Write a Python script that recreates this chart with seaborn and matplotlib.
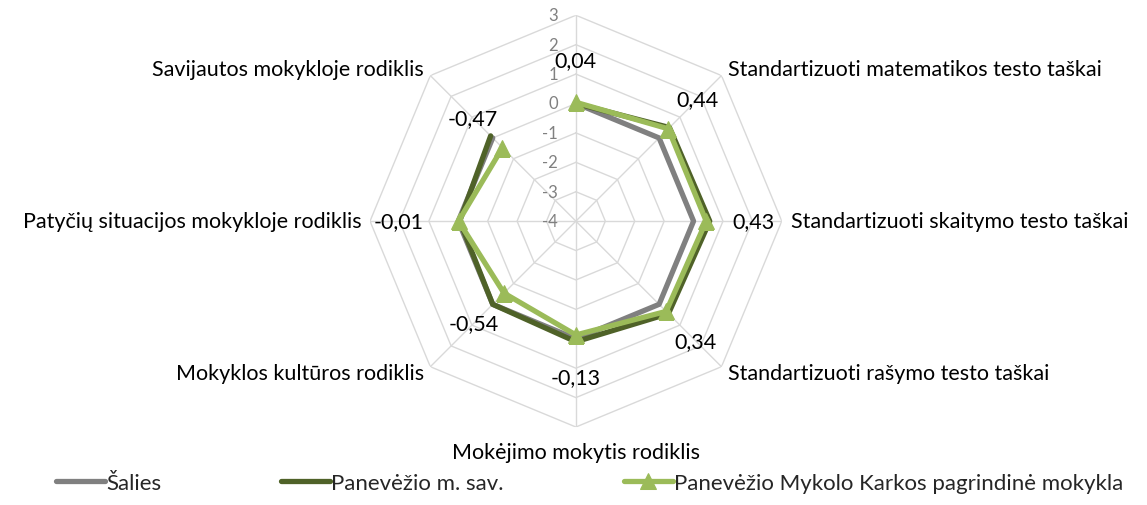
import numpy as np
import pandas as pd
import seaborn as sns
import matplotlib.pyplot as plt

sns.set_style("white")
plt.rcParams['font.family'] = ['Lato', 'DejaVu Sans']

categories = ["", "Standartizuoti matematikos testo taškai", "Standartizuoti skaitymo testo taškai",
              "Standartizuoti rašymo testo taškai", "Mokėjimo mokytis rodiklis",
              "Mokyklos kultūros rodiklis", "Patyčių situacijos mokykloje rodiklis",
              "Savijautos mokykloje rodiklis"]
salies = [0, 0, 0, 0, 0, 0, 0, 0]
savivaldybe = [0.0, 0.5, 0.55, 0.45, 0.1, 0.0, -0.05, 0.1]
mokykla = [0.04, 0.44, 0.43, 0.34, -0.13, -0.54, -0.01, -0.47]
series_names = ["Šalies", "Panevėžio m. sav.", "Panevėžio Mykolo Karkos pagrindinė mokykla"]
colors = ["#808080", "#4f6228", "#9bbb59"]
rings = [-4, -3, -2, -1, 0, 1, 2, 3]

n = len(categories)
theta = np.linspace(0, 2 * np.pi, n, endpoint=False)
theta_c = np.append(theta, theta[0])

fig = plt.figure(figsize=(11.47, 5.06), dpi=100)
ax = fig.add_axes([0.3226, 0.154, 0.359, 0.814], projection="polar")
ax.set_theta_offset(np.pi / 2)
ax.set_theta_direction(-1)
ax.set_ylim(-4, 3)
ax.grid(False)
ax.spines["polar"].set_visible(False)
ax.set_xticks([])
ax.set_yticks([])

# octagonal grid
for r in rings[1:]:
    ax.plot(theta_c, [r] * (n + 1), color="#d9d9d9", lw=1, zorder=1)
for t in theta:
    ax.plot([t, t], [-4, 3], color="#d9d9d9", lw=1, zorder=1)

# radial tick labels
for r in rings:
    ax.annotate(str(r), xy=(0, r), xytext=(-13, 0), textcoords="offset points",
                ha="right", va="center", color="#808080", fontsize=12)

data = [salies, savivaldybe, mokykla]
for name, vals, col in zip(series_names, data, colors):
    df = pd.DataFrame({"theta": theta_c, "val": np.append(vals, vals[0])})
    kw = dict(marker="^", markersize=11, markeredgecolor=col) if col == "#9bbb59" else {}
    sns.lineplot(data=df, x="theta", y="val", ax=ax, sort=False, color=col,
                 linewidth=3.8, label=name, zorder=3, **kw)
for line in ax.get_lines():
    line.set_solid_joinstyle("round")

# data labels for the school
for t, v in zip(theta, mokykla):
    s = np.sin(t)
    off = 1.6 if s > 0.99 else (2.05 if s < -0.99 else 1.43)
    ax.text(t, v + off, f"{v:.2f}".replace(".", ","), ha="center", va="center",
            fontsize=15.5, color="black")

# category labels
for t, lab in zip(theta, categories):
    s = np.sin(t)
    c = np.cos(t)
    ha = "left" if s > 0.1 else ("right" if s < -0.1 else "center")
    va = "bottom" if c > 0.9 else ("top" if c < -0.9 else "center")
    rr = 3.5 if c < -0.9 else 3.3
    ax.text(t, rr, lab, ha=ha, va=va, fontsize=15.5, color="black")

ax.set_xlabel("")
ax.set_ylabel("")
handles, labels = ax.get_legend_handles_labels()
ax.get_legend().remove()
fig.legend(handles, labels, loc="lower center", bbox_to_anchor=(0.514, -0.015), ncol=3,
           frameon=False, fontsize=16, handlelength=2.2, handletextpad=0.05,
           columnspacing=5.4)

fig.savefig("out.png", dpi=100)
